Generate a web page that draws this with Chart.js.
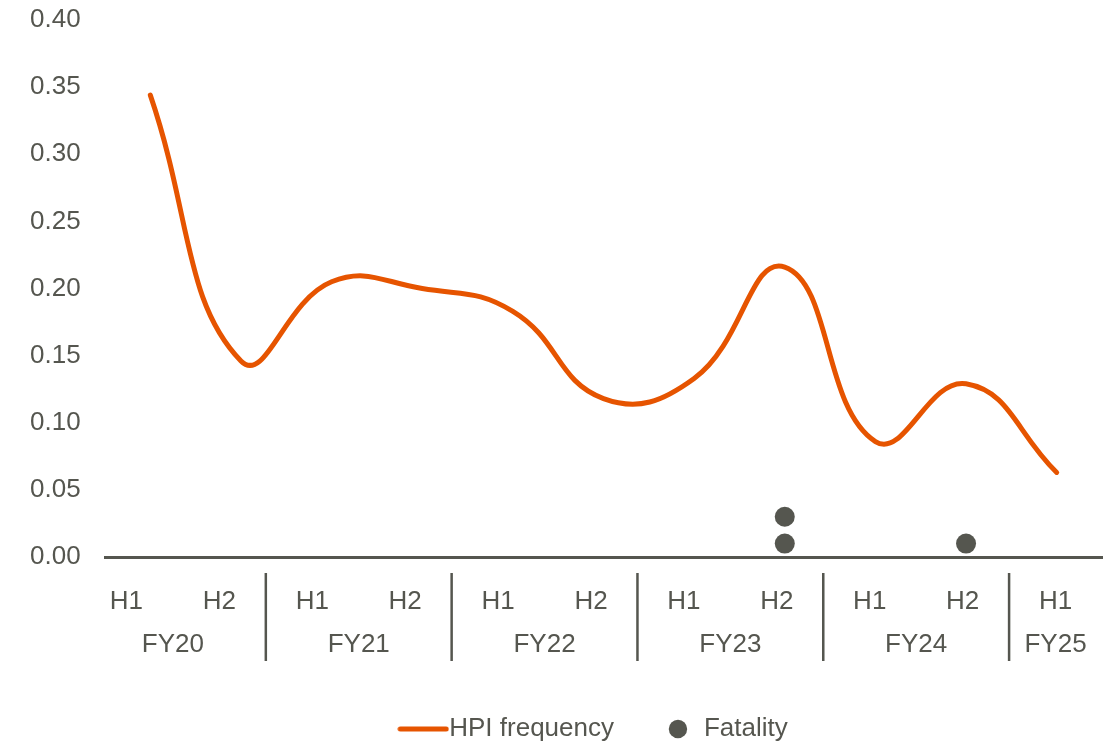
<!DOCTYPE html>
<html>
<head>
<meta charset="utf-8">
<script src="https://cdn.jsdelivr.net/npm/chart.js@4"></script>
<style>
  html, body { margin: 0; padding: 0; background: #fff; overflow: hidden; }
  #wrap { width: 1112px; height: 741px; }
</style>
</head>
<body>
<div id="wrap"><canvas id="hpiChart"></canvas></div>
<script>
const periods = ['H1', 'H2', 'H1', 'H2', 'H1', 'H2', 'H1', 'H2', 'H1', 'H2', 'H1'];
const fiscalYears = ['FY20', 'FY20', 'FY21', 'FY21', 'FY22', 'FY22', 'FY23', 'FY23', 'FY24', 'FY24', 'FY25'];
const hpiFrequency = [0.344, 0.146, 0.205, 0.200, 0.183, 0.118, 0.133, 0.216, 0.086, 0.129, 0.063];
const fatalityPeriods = ['FY23 H2', 'FY23 H2', 'FY24 H2'];
const fatalityLevels = [0.01, 0.03, 0.01];
const yTicks = [0, 0.05, 0.10, 0.15, 0.20, 0.25, 0.30, 0.35, 0.40];

const categories = periods.map((p, i) => fiscalYears[i] + ' ' + p);

const ORANGE = '#e65400';
const GREY = '#55564f';
const FONT = '"Liberation Sans", Arial, sans-serif';

// line sample used in the legend
const lineSwatch = document.createElement('canvas');
lineSwatch.width = 52;
lineSwatch.height = 6;
const sctx = lineSwatch.getContext('2d');
sctx.strokeStyle = ORANGE;
sctx.lineWidth = 5;
sctx.lineCap = 'round';
sctx.beginPath();
sctx.moveTo(3, 3);
sctx.lineTo(49, 3);
sctx.stroke();

// H1/H2 and FY labels with group separators under the axis
const groupLabels = {
  id: 'groupLabels',
  afterLayout(chart) {
    // legend sits a little right of centre in the original
    chart.legend.left += 28;
    chart.legend.right += 28;
  },
  afterDraw(chart) {
    const { ctx, chartArea } = chart;
    const left = chartArea.left - 25;
    const w = (chartArea.right - left) / periods.length;
    const base = chartArea.bottom;
    ctx.save();
    ctx.fillStyle = GREY;
    ctx.font = '26px ' + FONT;
    ctx.textAlign = 'center';
    ctx.textBaseline = 'middle';
    periods.forEach((p, i) => {
      ctx.fillText(p, left + w * (i + 0.5), base + 45);
    });
    let start = 0;
    for (let i = 1; i <= fiscalYears.length; i++) {
      if (i === fiscalYears.length || fiscalYears[i] !== fiscalYears[start]) {
        ctx.fillText(fiscalYears[start], left + w * (start + i) / 2, base + 88);
        if (i < fiscalYears.length) {
          const x = left + w * i;
          ctx.strokeStyle = GREY;
          ctx.lineWidth = 2.5;
          ctx.beginPath();
          ctx.moveTo(x, base + 16);
          ctx.lineTo(x, base + 104);
          ctx.stroke();
        }
        start = i;
      }
    }
    ctx.restore();
  }
};

new Chart(document.getElementById('hpiChart'), {
  type: 'line',
  data: {
    labels: categories,
    datasets: [
      {
        label: 'HPI frequency',
        data: hpiFrequency,
        borderColor: ORANGE,
        backgroundColor: ORANGE,
        borderWidth: 5,
        borderCapStyle: 'round',
        tension: 0.45,
        pointRadius: 0,
        pointHoverRadius: 0
      },
      {
        label: 'Fatality',
        data: fatalityPeriods.map((p, i) => ({ x: p, y: fatalityLevels[i] })),
        showLine: false,
        backgroundColor: GREY,
        borderColor: GREY,
        borderWidth: 0,
        pointRadius: 10,
        pointStyle: 'circle'
      }
    ]
  },
  options: {
    responsive: true,
    maintainAspectRatio: false,
    animation: false,
    layout: { padding: { left: 30, right: 0, top: 20, bottom: -11 } },
    scales: {
      x: {
        type: 'category',
        offset: true,
        grid: { display: false, drawTicks: false },
        border: { display: true, color: GREY, width: 3 },
        ticks: { display: false },
        afterFit(axis) { axis.height = 108; }
      },
      y: {
        min: 0,
        max: 0.4,
        afterBuildTicks(axis) { axis.ticks = yTicks.map(v => ({ value: v })); },
        afterFit(axis) { axis.width = 75; },
        grid: { display: false, drawTicks: false },
        border: { display: false },
        ticks: {
          padding: 0,
          crossAlign: 'far',
          color: GREY,
          font: { size: 26, family: FONT },
          callback: v => v.toFixed(2)
        }
      }
    },
    plugins: {
      tooltip: { enabled: false },
      legend: {
        position: 'bottom',
        labels: {
          usePointStyle: true,
          boxHeight: 13,
          padding: 51,
          color: GREY,
          font: { size: 26, family: FONT },
          generateLabels(chart) {
            const items = Chart.defaults.plugins.legend.labels.generateLabels(chart);
            items[0].pointStyle = lineSwatch;
            return items;
          }
        }
      }
    }
  },
  plugins: [groupLabels]
});
</script>
</body>
</html>
